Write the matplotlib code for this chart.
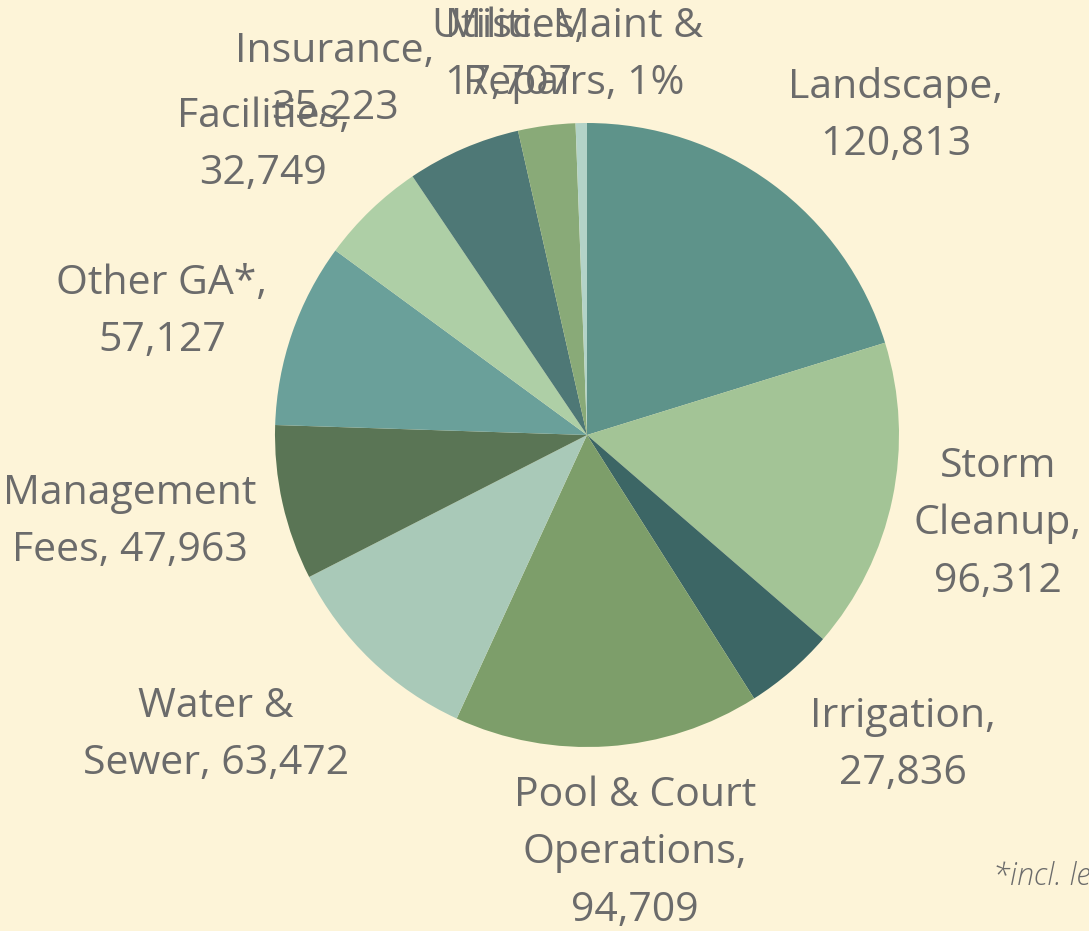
import matplotlib
matplotlib.use("Agg")
import matplotlib.pyplot as plt

categories = ["Landscape", "Storm Cleanup", "Irrigation", "Pool & Court Operations",
              "Water & Sewer", "Management Fees", "Other GA*", "Facilities",
              "Insurance", "Utilities", "Misc. Maint & Repairs"]
values = [120813, 96312, 27836, 94709, 63472, 47963, 57127, 32749, 35223, 17707, 3500]
value_labels = ["120,813", "96,312", "27,836", "94,709", "63,472", "47,963", "57,127",
                "32,749", "35,223", "17,707", "1%"]
colors = ["#5e938a", "#a3c496", "#3c6665", "#7d9e6a", "#a9c9b8", "#5a7555",
          "#6aa09a", "#aecfa6", "#4e7876", "#89aa78", "#b3d3c8"]

label_texts = [
    "Landscape,\n120,813",
    "Storm\nCleanup,\n96,312",
    "Irrigation,\n27,836",
    "Pool & Court\nOperations,\n94,709",
    "Water &\nSewer, 63,472",
    "Management\nFees, 47,963",
    "Other GA*,\n57,127",
    "Facilities,\n32,749",
    "Insurance,\n35,223",
    "Utilities,\n17,707",
    "Misc. Maint &\nRepairs, 1%",
]
label_pos = [(896, 116), (998, 524), (903, 745), (635, 853), (216, 735), (130, 522),
             (162, 312), (263, 145), (335, 80), (508, 55), (574, 55)]

W, H = 1089, 931
bg = "#fdf4d8"
fig = plt.figure(figsize=(W / 100, H / 100), dpi=100)
fig.patch.set_facecolor(bg)
ax = fig.add_axes([0, 0, 1, 1])
ax.set_facecolor(bg)
ax.pie(values, colors=colors, startangle=90, counterclock=False,
       radius=312, center=(587, H - 435), wedgeprops=dict(linewidth=0))
ax.set_xlim(0, W)
ax.set_ylim(0, H)
ax.set_aspect("equal")
ax.axis("off")

for txt, (x, y) in zip(label_texts, label_pos):
    ax.text(x, H - y, txt, ha="center", va="center", fontsize=29.5, color="#6b6b6b",
            family="Open Sans", linespacing=1.55)

ax.text(993, H - 876, "*incl. legal", ha="left", va="center", fontsize=22,
        color="#6b6b6b", family="Open Sans", style="italic", fontweight="light")

fig.savefig("out.png", dpi=100, facecolor=fig.get_facecolor())
